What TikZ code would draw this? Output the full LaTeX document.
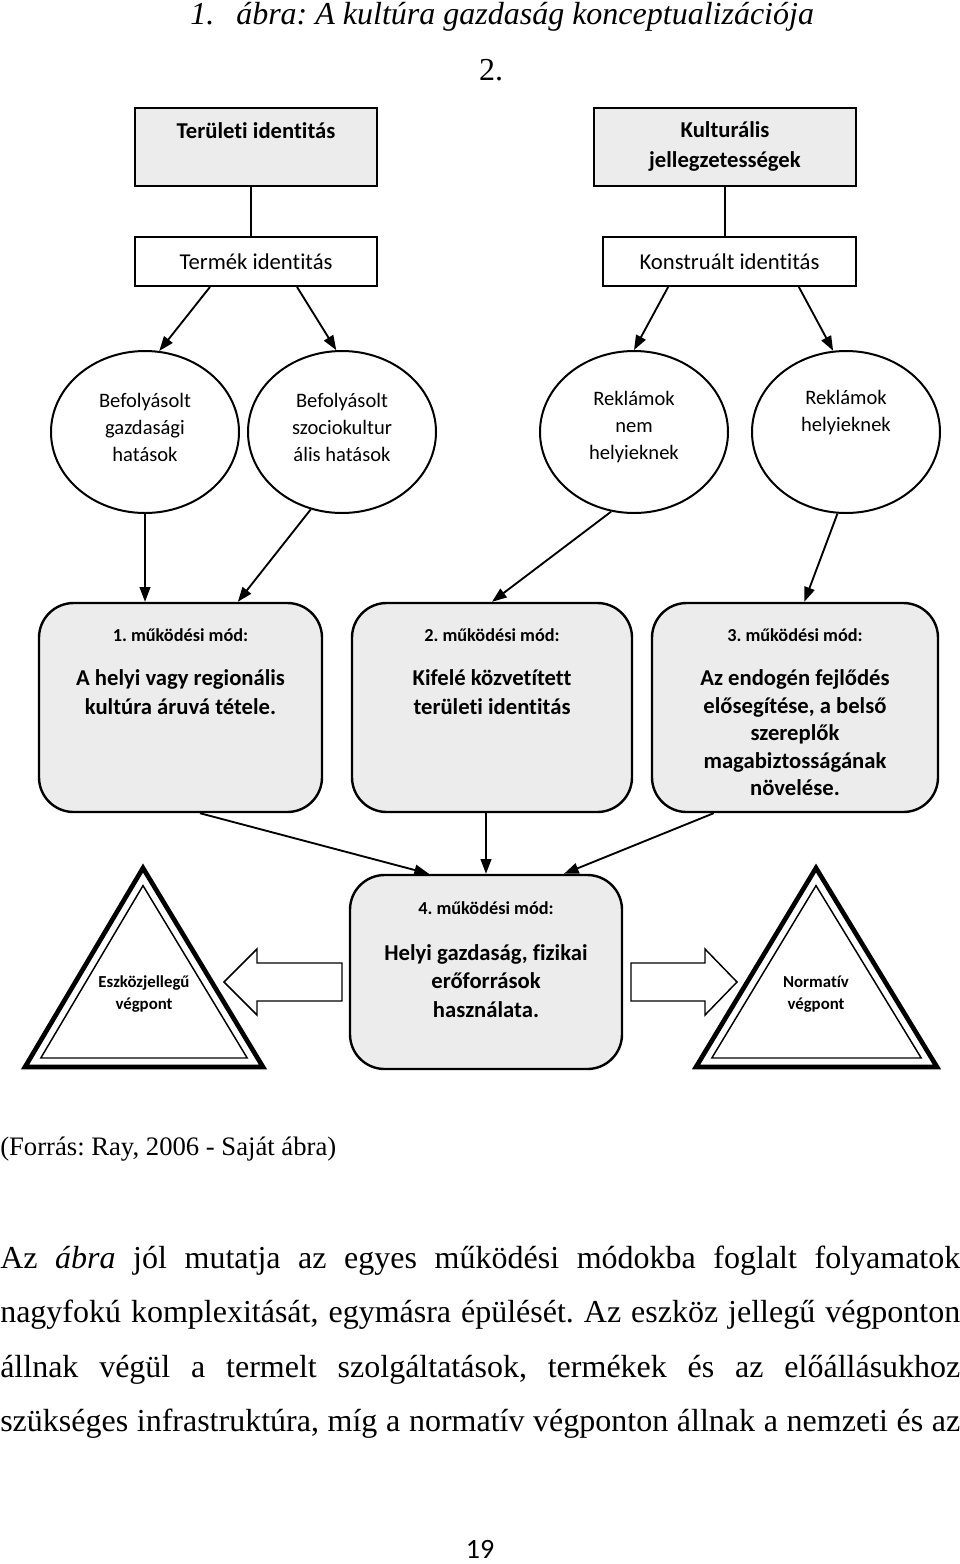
\documentclass[tikz,border=0pt]{standalone}
\usepackage{fontspec}
\setmainfont{Liberation Serif}
\newfontfamily\calfont[Ligatures=NoCommon]{Carlito}
\usetikzlibrary{arrows.meta,shapes.geometric}
\definecolor{boxgray}{RGB}{236,236,236}
\newdimen\pxu \pxu=0.75pt
\frenchspacing
\begin{document}
\begin{tikzpicture}[x=0.75pt,y=-0.75pt,
  gbox/.style={draw, line width=1.8pt, fill=boxgray, inner sep=0pt},
  wbox/.style={draw, line width=1.4pt, fill=white, inner sep=0pt, font=\calfont\fontsize{17}{22.5}\selectfont},
  circ/.style={draw, ellipse, line width=1.5pt, inner sep=0pt, minimum width=188\pxu, minimum height=162\pxu},
  mbox/.style={draw, line width=1.8pt, fill=boxgray, rounded corners=26pt, inner sep=0pt},
  arr/.style={line width=1.4pt, -{Triangle[length=11pt,width=8pt]}},
  con/.style={line width=1.4pt},
  bt/.style={font=\calfont\bfseries\fontsize{17}{22.5}\selectfont, align=center, inner sep=0pt},
  ct/.style={font=\calfont\fontsize{15.4}{20.25}\selectfont, align=center, inner sep=0pt},
  mt/.style={font=\calfont\bfseries\fontsize{13.7}{16}\selectfont, inner sep=0pt},
  mm/.style={font=\calfont\bfseries\fontsize{17}{21.75}\selectfont, align=center, inner sep=0pt},
  tt/.style={font=\calfont\bfseries\fontsize{12.6}{16.5}\selectfont, align=center, inner sep=0pt},
  tri/.style={line width=3.5pt, line join=miter},
  trin/.style={line width=1.1pt, line join=miter},
  barr/.style={draw, line width=1.1pt, fill=white, line join=miter},
  body/.style={anchor=base west, inner sep=0pt, font=\fontsize{24}{28}\selectfont}
]
\fill[white] (0,0) rectangle (960,1564);
\useasboundingbox (0,0) rectangle (960,1564);

% title
\node[anchor=base west, inner sep=0pt, font=\itshape\fontsize{24}{28}\selectfont] (t1) at (190,24) {1.};
\node[anchor=base west, inner sep=0pt, font=\itshape\fontsize{24}{28}\selectfont] (t2) at (236,24) {ábra: A kultúra gazdaság konceptualizációja};
\node[anchor=base, inner sep=0pt, font=\fontsize{24}{28}\selectfont] (t3) at (491,80) {2.};

% top boxes
\node[gbox, minimum width=242\pxu, minimum height=78\pxu] (ti) at (256,147) {};
\node[bt] (tit) at (256,131) {Területi identitás};
\node[gbox, minimum width=262\pxu, minimum height=78\pxu] (kj) at (725,147) {};
\node[bt] (kjt) at (725,146) {Kulturális\\jellegzetességek};
\node[wbox, minimum width=242\pxu, minimum height=49\pxu] (te) at (256,261.5) {Termék identitás};
\node[wbox, minimum width=253\pxu, minimum height=49\pxu] (ko) at (729.5,261.5) {Konstruált identitás};

\draw[con] ([xshift=-3.75pt]ti.south) -- ([xshift=-3.75pt]te.north);
\draw[con] (kj.south) -- (kj.south |- ko.north);

% circles
\node[circ] (c1) at (145,432) {};
\node[circ] (c2) at (342,432) {};
\node[circ] (c3) at (634,432) {};
\node[circ] (c4) at (846,432) {};
\node[ct] (c1t) at (145,427) {Befolyásolt\\gazdasági\\hatások};
\node[ct] (c2t) at (342,427) {Befolyásolt\\szociokultur\\ális hatások};
\node[ct] (c3t) at (634,427) {Reklámok\\nem\\helyieknek};
\node[ct] (c4t) at (846,413) {Reklámok\\helyieknek};

\draw[arr] ([xshift=-34.5pt]te.south) -- (c1.80);
\draw[arr] ([xshift=30.75pt]te.south) -- (c2.94);
\draw[arr] ([xshift=-46pt]ko.south) -- (c3.90);
\draw[arr] ([xshift=52pt]ko.south) -- (c4.99);

% mode boxes
\node[mbox, minimum width=283\pxu, minimum height=209\pxu] (m1) at (180.5,707.5) {};
\node[mbox, minimum width=280\pxu, minimum height=209\pxu] (m2) at (492,707.5) {};
\node[mbox, minimum width=286\pxu, minimum height=209\pxu] (m3) at (795,707.5) {};
\node[mt] (m1h) at (180.5,635) {1. működési mód:};
\node[mt] (m2h) at (492,635) {2. működési mód:};
\node[mt] (m3h) at (795,635) {3. működési mód:};
\node[mm] (m1t) at (180.5,692.5) {A helyi vagy regionális\\kultúra áruvá tétele.};
\node[mm] (m2t) at (492,692.5) {Kifelé közvetített\\területi identitás};
\node[mm, font=\calfont\bfseries\fontsize{17}{20.6}\selectfont] (m3t) at (795,733) {Az endogén fejlődés\\elősegítése, a belső\\szereplők\\magabiztosságának\\növelése.};

\draw[arr] (c1.south) -- (c1.south |- m1.north);
\draw[arr] (c2.248) -- ([xshift=43pt]m1.north);
\draw[arr] (c3.254) -- (m2.north);
\draw[arr] (c4.264) -- ([xshift=7pt]m3.north);

% mode 4
\node[mbox, minimum width=272\pxu, minimum height=194\pxu] (m4) at (486,972) {};
\node[mt] (m4h) at (486,908) {4. működési mód:};
\node[mm, font=\calfont\bfseries\fontsize{17}{21.4}\selectfont] (m4t) at (486,981) {Helyi gazdaság, fizikai\\erőforrások\\használata.};

\draw[arr] ([xshift=14.6pt]m1.south) -- ([xshift=-42.75pt]m4.north);
\draw[arr] (m4.north |- m2.south) -- (m4.north);
\draw[arr] ([xshift=-61pt]m3.south) -- ([xshift=58.5pt]m4.north);

% triangles
\draw[tri] (143,868) -- (263,1067) -- (25,1067) -- cycle;
\draw[trin] (143,885.6) -- (247.2,1058) -- (40.8,1058) -- cycle;
\draw[tri] (816,868) -- (937,1067) -- (696,1067) -- cycle;
\draw[trin] (816,885.6) -- (921.2,1058) -- (711.8,1058) -- cycle;
\node[tt] (e1) at (144,994) {Eszközjellegű\\végpont};
\node[tt] (e2) at (816,994) {Normatív\\végpont};

% block arrows
\draw[barr] (224,982) -- (257,949) -- (257,963) -- (342,963) -- (342,1001) -- (257,1001) -- (257,1015) -- cycle;
\draw[barr] (737,982) -- (705,949) -- (705,963) -- (631,963) -- (631,1001) -- (705,1001) -- (705,1015) -- cycle;

% caption and text
\node[anchor=base west, inner sep=0pt, font=\fontsize{20}{24}\selectfont] (src) at (0,1155) {(Forrás: Ray, 2006 - Saját ábra)};
\node[body] (p1) at (0,1268) {\makebox[720pt][s]{Az \textit{ábra} jól mutatja az egyes működési módokba foglalt folyamatok}};
\node[body] (p2) at (0,1322) {\makebox[720pt][s]{nagyfokú komplexitását, egymásra épülését. Az eszköz jellegű végponton}};
\node[body] (p3) at (0,1377) {\makebox[720pt][s]{állnak végül a termelt szolgáltatások, termékek és az előállásukhoz}};
\node[body] (p4) at (0,1431) {\makebox[720pt][s]{szükséges infrastruktúra, míg a normatív végponton állnak a nemzeti és az}};

\node[anchor=base, inner sep=0pt, font=\calfont\fontsize{21}{24}\selectfont] (pg) at (480,1558) {19};
\end{tikzpicture}
\end{document}
